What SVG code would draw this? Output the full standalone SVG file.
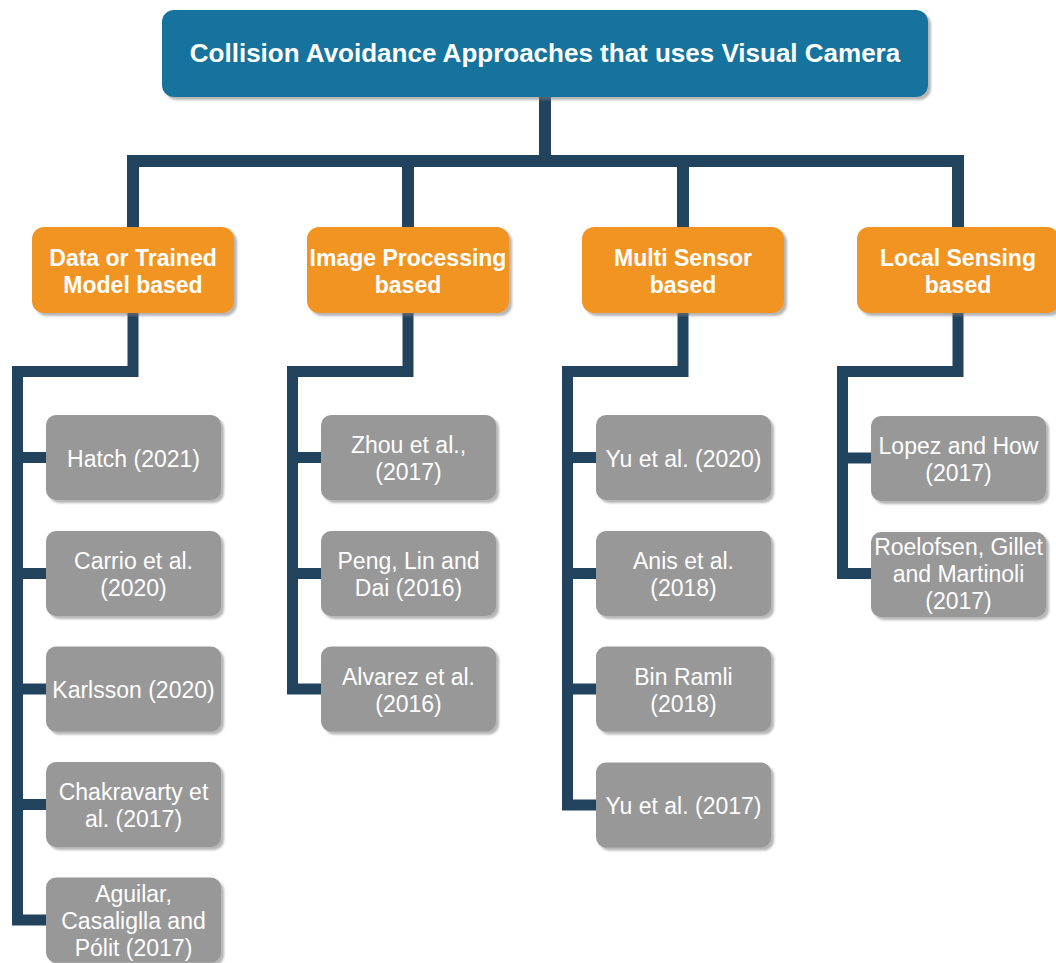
<svg xmlns="http://www.w3.org/2000/svg" width="1056" height="963" viewBox="0 0 1056 963">
  <defs>
    <filter id="shadow" x="-10%" y="-10%" width="125%" height="130%">
      <feDropShadow dx="3" dy="3" stdDeviation="1.2" flood-color="#7a7a7a" flood-opacity="0.55"/>
    </filter>
  </defs>
  <style>
    .root { fill: #13739d; filter: url(#shadow); }
    .cat { fill: #f29421; filter: url(#shadow); }
    .leaf { fill: #989898; filter: url(#shadow); }
    .wire { fill: none; stroke: #22435d; stroke-width: 11; stroke-linejoin: miter; stroke-linecap: butt; }
    .trunk { stroke-width: 12; }
    text { fill: #ffffff; font-family: "Liberation Sans", Arial, sans-serif; text-anchor: middle; }
    .t-root { font-size: 26px; font-weight: bold; }
    .t-cat { font-size: 23px; font-weight: bold; }
    .t-leaf { font-size: 23px; }
  </style>
  <rect width="1056" height="963" fill="#ffffff"/>

  <!-- connectors -->
  <g id="connectors">
    <path class="wire trunk" d="M545 97 V161"/>
    <path class="wire trunk" d="M133 227 V161 H958 V227 M408 161 V227 M683 161 V227"/>
    <!-- column 1 -->
    <path class="wire" d="M133 313 V371.5 H17.5 V920 H46 M17.5 457.5 H46 M17.5 573.5 H46 M17.5 689 H46 M17.5 804.5 H46"/>
    <!-- column 2 -->
    <path class="wire" d="M408 313 V371.5 H292.5 V689 H321 M292.5 457.5 H321 M292.5 573.5 H321"/>
    <!-- column 3 -->
    <path class="wire" d="M683 313 V371.5 H567.5 V805 H596 M567.5 457.5 H596 M567.5 573.5 H596 M567.5 689 H596"/>
    <!-- column 4 -->
    <path class="wire" d="M958 313 V371.5 H842.5 V573.5 H871 M842.5 458 H871"/>
  </g>

  <!-- root -->
  <g id="root">
    <rect class="root" x="162" y="10" width="766" height="87" rx="12"/>
    <text class="t-root" x="545" y="62">Collision Avoidance Approaches that uses Visual Camera</text>
  </g>

  <!-- categories -->
  <g id="cat-data">
    <rect class="cat" x="32" y="227" width="202" height="86" rx="12"/>
    <text class="t-cat" x="133" y="266">Data or Trained</text>
    <text class="t-cat" x="133" y="293">Model based</text>
  </g>
  <g id="cat-image">
    <rect class="cat" x="307" y="227" width="202" height="86" rx="12"/>
    <text class="t-cat" x="408" y="266">Image Processing</text>
    <text class="t-cat" x="408" y="293">based</text>
  </g>
  <g id="cat-multi">
    <rect class="cat" x="582" y="227" width="202" height="86" rx="12"/>
    <text class="t-cat" x="683" y="266">Multi Sensor</text>
    <text class="t-cat" x="683" y="293">based</text>
  </g>
  <g id="cat-local">
    <rect class="cat" x="857" y="227" width="202" height="86" rx="12"/>
    <text class="t-cat" x="958" y="266">Local Sensing</text>
    <text class="t-cat" x="958" y="293">based</text>
  </g>

  <!-- column 1 leaves -->
  <g id="leaf-hatch">
    <rect class="leaf" x="46" y="415" width="175" height="85" rx="10"/>
    <text class="t-leaf" x="133.5" y="466.5">Hatch (2021)</text>
  </g>
  <g id="leaf-carrio">
    <rect class="leaf" x="46" y="531" width="175" height="85" rx="10"/>
    <text class="t-leaf" x="133.5" y="569">Carrio et al.</text>
    <text class="t-leaf" x="133.5" y="596">(2020)</text>
  </g>
  <g id="leaf-karlsson">
    <rect class="leaf" x="46" y="646.5" width="175" height="85" rx="10"/>
    <text class="t-leaf" x="133.5" y="698">Karlsson (2020)</text>
  </g>
  <g id="leaf-chakravarty">
    <rect class="leaf" x="46" y="762" width="175" height="85" rx="10"/>
    <text class="t-leaf" x="133.5" y="800">Chakravarty et</text>
    <text class="t-leaf" x="133.5" y="827">al. (2017)</text>
  </g>
  <g id="leaf-aguilar">
    <rect class="leaf" x="46" y="877.5" width="175" height="85" rx="10"/>
    <text class="t-leaf" x="133.5" y="902">Aguilar,</text>
    <text class="t-leaf" x="133.5" y="929">Casaliglla and</text>
    <text class="t-leaf" x="133.5" y="956">Pólit (2017)</text>
  </g>

  <!-- column 2 leaves -->
  <g id="leaf-zhou">
    <rect class="leaf" x="321" y="415" width="175" height="85" rx="10"/>
    <text class="t-leaf" x="408.5" y="453">Zhou et al.,</text>
    <text class="t-leaf" x="408.5" y="480">(2017)</text>
  </g>
  <g id="leaf-peng">
    <rect class="leaf" x="321" y="531" width="175" height="85" rx="10"/>
    <text class="t-leaf" x="408.5" y="569">Peng, Lin and</text>
    <text class="t-leaf" x="408.5" y="596">Dai (2016)</text>
  </g>
  <g id="leaf-alvarez">
    <rect class="leaf" x="321" y="646.5" width="175" height="85" rx="10"/>
    <text class="t-leaf" x="408.5" y="684.5">Alvarez et al.</text>
    <text class="t-leaf" x="408.5" y="711.5">(2016)</text>
  </g>

  <!-- column 3 leaves -->
  <g id="leaf-yu2020">
    <rect class="leaf" x="596" y="415" width="175" height="85" rx="10"/>
    <text class="t-leaf" x="683.5" y="466.5">Yu et al. (2020)</text>
  </g>
  <g id="leaf-anis">
    <rect class="leaf" x="596" y="531" width="175" height="85" rx="10"/>
    <text class="t-leaf" x="683.5" y="569">Anis et al.</text>
    <text class="t-leaf" x="683.5" y="596">(2018)</text>
  </g>
  <g id="leaf-binramli">
    <rect class="leaf" x="596" y="646.5" width="175" height="85" rx="10"/>
    <text class="t-leaf" x="683.5" y="684.5">Bin Ramli</text>
    <text class="t-leaf" x="683.5" y="711.5">(2018)</text>
  </g>
  <g id="leaf-yu2017">
    <rect class="leaf" x="596" y="762.5" width="175" height="85" rx="10"/>
    <text class="t-leaf" x="683.5" y="813.5">Yu et al. (2017)</text>
  </g>

  <!-- column 4 leaves -->
  <g id="leaf-lopez">
    <rect class="leaf" x="871" y="416" width="175" height="85" rx="10"/>
    <text class="t-leaf" x="958.5" y="453.5">Lopez and How</text>
    <text class="t-leaf" x="958.5" y="480.5">(2017)</text>
  </g>
  <g id="leaf-roelofsen">
    <rect class="leaf" x="871" y="532" width="175" height="85" rx="10"/>
    <text class="t-leaf" x="958.5" y="554.5">Roelofsen, Gillet</text>
    <text class="t-leaf" x="958.5" y="581.5">and Martinoli</text>
    <text class="t-leaf" x="958.5" y="608.5">(2017)</text>
  </g>
</svg>
